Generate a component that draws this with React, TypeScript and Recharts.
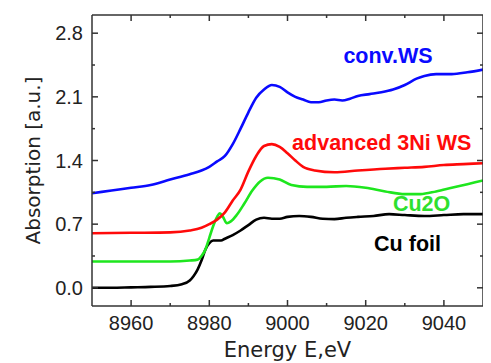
import React from "react";
import { LineChart, Line, XAxis, YAxis, ReferenceDot } from "recharts";

// Cu K-edge XANES spectra (energy in eV, absorption in a.u.)
const cuFoilE = [8950, 8955, 8960, 8965, 8970, 8973, 8975, 8976, 8977, 8978, 8979, 8980, 8981, 8982, 8983, 8984, 8986, 8988, 8990, 8992, 8994, 8996, 8998, 9000, 9003, 9006, 9009, 9012, 9015, 9018, 9022, 9026, 9030, 9035, 9040, 9045, 9050];
const cuFoilA = [0.0, 0.0, 0.005, 0.01, 0.02, 0.04, 0.08, 0.13, 0.2, 0.3, 0.42, 0.49, 0.52, 0.52, 0.52, 0.54, 0.58, 0.63, 0.69, 0.75, 0.77, 0.76, 0.76, 0.78, 0.79, 0.78, 0.76, 0.755, 0.77, 0.78, 0.79, 0.81, 0.8, 0.79, 0.8, 0.81, 0.81];

const cu2oE = [8950, 8960, 8970, 8975, 8977, 8978, 8979, 8980, 8981, 8982, 8982.7, 8983.5, 8984.5, 8985.5, 8987, 8989, 8991, 8993, 8995, 8998, 9001, 9005, 9010, 9015, 9020, 9025, 9030, 9034, 9038, 9042, 9046, 9050];
const cu2oA = [0.29, 0.29, 0.29, 0.3, 0.31, 0.35, 0.42, 0.55, 0.68, 0.78, 0.82, 0.78, 0.71, 0.73, 0.8, 0.93, 1.07, 1.17, 1.21, 1.19, 1.13, 1.11, 1.11, 1.12, 1.1, 1.06, 1.03, 1.03, 1.06, 1.1, 1.14, 1.18];

const advancedE = [8950, 8960, 8970, 8975, 8978, 8980, 8982, 8984, 8986, 8988, 8990, 8992, 8994, 8996, 8998, 9000, 9002, 9004, 9007, 9012, 9018, 9025, 9030, 9035, 9040, 9045, 9050];
const advancedA = [0.6, 0.605, 0.61, 0.63, 0.66, 0.7, 0.75, 0.83, 0.96, 1.08, 1.28, 1.45, 1.56, 1.58, 1.55, 1.48, 1.4, 1.33, 1.29, 1.27, 1.29, 1.31, 1.32, 1.33, 1.35, 1.36, 1.37];

const convE = [8950, 8955, 8960, 8965, 8970, 8975, 8978, 8980, 8982, 8984, 8986, 8988, 8990, 8992, 8994, 8996, 8998, 9000, 9002, 9004, 9006, 9008, 9010, 9012, 9014, 9016, 9018, 9021, 9024, 9027, 9030, 9033, 9035, 9038, 9042, 9046, 9050];
const convA = [1.04, 1.07, 1.1, 1.13, 1.19, 1.25, 1.29, 1.33, 1.39, 1.45, 1.58, 1.75, 1.93, 2.09, 2.18, 2.23, 2.21, 2.15, 2.1, 2.07, 2.04, 2.04, 2.06, 2.07, 2.06, 2.08, 2.11, 2.13, 2.15, 2.18, 2.23, 2.3, 2.33, 2.35, 2.35, 2.37, 2.4];

const xTicks = [8960, 8970, 8980, 8990, 9000, 9010, 9020, 9030, 9040];
const xTickLabels = [8960, 8980, 9000, 9020, 9040];
const yTicks = [0, 0.35, 0.7, 1.05, 1.4, 1.75, 2.1, 2.45, 2.8];
const yTickLabels = ["0.0", "0.7", "1.4", "2.1", "2.8"];

const noteText = ["conv.WS", "advanced 3Ni WS", "Cu2O", "Cu foil"];
const noteE = [9025.7, 9024.1, 9034.3, 9030.7];
const noteA = [2.47, 1.51, 0.85, 0.41];

const BLUE = "#0a0aff";
const RED = "#ff0a0a";
const GREEN = "#1ee61e";
const BLACK = "#000000";
const AXIS = "#333333";
const TICK_FONT = "'Liberation Sans Narrow', 'Arial Narrow', Arial, sans-serif";
const TEXT_FONT = "'DejaVu Sans', Verdana, sans-serif";
const NOTE_FONT = "'Liberation Sans', Arial, sans-serif";

const zip = (es: number[], as: number[]) => es.map((e, i) => ({ e, a: as[i] }));

const series = [
  { name: "Cu foil", data: zip(cuFoilE, cuFoilA), color: BLACK },
  { name: "Cu2O", data: zip(cu2oE, cu2oA), color: GREEN },
  { name: "advanced 3Ni WS", data: zip(advancedE, advancedA), color: RED },
  { name: "conv.WS", data: zip(convE, convA), color: BLUE },
];
const noteColors = [BLUE, RED, "#2ee02e", BLACK];

const isMajorX = (v: number) => xTickLabels.includes(v);
const yLabelFor = (v: number) => {
  const i = yTicks.indexOf(v);
  return i % 2 === 0 ? yTickLabels[i / 2] : null;
};

const BottomTick = ({ x, y, payload }: any) => {
  const major = isMajorX(payload.value);
  return (
    <g>
      <line x1={x} x2={x} y1={y} y2={y - (major ? 6 : 3)} stroke={AXIS} strokeWidth={1.5} />
      {major && (
        <text x={x} y={y + 24} textAnchor="middle" fill="#222" fontSize={20} fontFamily={TICK_FONT}>
          {payload.value}
        </text>
      )}
    </g>
  );
};

const TopTick = ({ x, y, payload }: any) => (
  <line x1={x} x2={x} y1={y} y2={y + (isMajorX(payload.value) ? 6 : 3)} stroke={AXIS} strokeWidth={1.5} />
);

const LeftTick = ({ x, y, payload }: any) => {
  const label = yLabelFor(payload.value);
  return (
    <g>
      <line x1={x} x2={x + (label ? 6 : 3)} y1={y} y2={y} stroke={AXIS} strokeWidth={1.5} />
      {label && (
        <text x={x - 9} y={y} dy="0.36em" textAnchor="end" fill="#222" fontSize={20} fontFamily={TICK_FONT}>
          {label}
        </text>
      )}
    </g>
  );
};

const RightTick = ({ x, y, payload }: any) => (
  <line x1={x} x2={x - (yLabelFor(payload.value) ? 6 : 3)} y1={y} y2={y} stroke={AXIS} strokeWidth={1.5} />
);

const noteLabel = (text: string, color: string) => (props: any) => {
  const vb = props.viewBox;
  return (
    <text x={vb.x + vb.width / 2} y={vb.y + vb.height / 2} textAnchor="middle" fill={color} fontSize={21.5} fontWeight="bold" fontFamily={NOTE_FONT}>
      {text}
    </text>
  );
};

export default function App() {
  return (
    <LineChart width={483} height={355} margin={{ top: 0, right: 0, bottom: 0, left: 0 }}>
      <XAxis
        type="number"
        dataKey="e"
        domain={[8950, 9050]}
        ticks={xTicks}
        allowDataOverflow
        height={57}
        tickSize={0}
        tickMargin={0}
        tickLine={false}
        tick={<BottomTick />}
        axisLine={{ stroke: AXIS, strokeWidth: 1.5 }}
        label={(p: any) => {
          const vb = p.viewBox;
          return (
            <text x={vb.x + vb.width / 2} y={vb.y + 51} textAnchor="middle" fill="#222" fontSize={21} fontFamily={TEXT_FONT}>
              Energy E,eV
            </text>
          );
        }}
      />
      <XAxis
        xAxisId="top"
        orientation="top"
        type="number"
        dataKey="e"
        domain={[8950, 9050]}
        ticks={xTicks}
        allowDataOverflow
        height={7}
        tickSize={0}
        tickMargin={0}
        tickLine={false}
        tick={<TopTick />}
        axisLine={{ stroke: AXIS, strokeWidth: 1.5 }}
      />
      <YAxis
        type="number"
        domain={[-0.2, 3.0]}
        ticks={yTicks}
        allowDataOverflow
        width={84}
        tickSize={0}
        tickMargin={0}
        tickLine={false}
        tick={<LeftTick />}
        axisLine={{ stroke: AXIS, strokeWidth: 1.5 }}
        label={(p: any) => {
          const vb = p.viewBox;
          const cy = vb.y + vb.height / 2;
          return (
            <text x={25} y={cy} transform={`rotate(-90 25 ${cy})`} textAnchor="middle" dy="0.35em" fill="#222" fontSize={20} fontFamily={TEXT_FONT}>
              Absorption [a.u.]
            </text>
          );
        }}
      />
      <YAxis
        yAxisId="right"
        orientation="right"
        type="number"
        domain={[-0.2, 3.0]}
        ticks={yTicks}
        allowDataOverflow
        width={8}
        tickSize={0}
        tickMargin={0}
        tickLine={false}
        tick={<RightTick />}
        axisLine={{ stroke: AXIS, strokeWidth: 1.5 }}
      />
      {series.map((s) => (
        <Line
          key={s.name}
          data={s.data}
          dataKey="a"
          name={s.name}
          type="monotone"
          stroke={s.color}
          strokeWidth={2.6}
          dot={false}
          isAnimationActive={false}
        />
      ))}
      {noteText.map((t, i) => (
        <ReferenceDot key={t} x={noteE[i]} y={noteA[i]} r={0} fill="none" stroke="none" label={noteLabel(t, noteColors[i])} />
      ))}
    </LineChart>
  );
}
